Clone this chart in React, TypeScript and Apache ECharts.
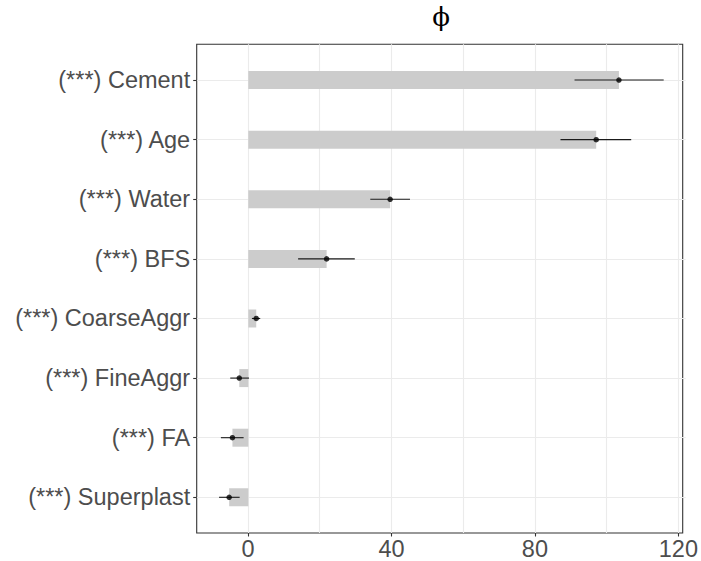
import React, { useEffect, useRef } from "react";
import * as echarts from "echarts";

const categories = [
  "(***) Cement",
  "(***) Age",
  "(***) Water",
  "(***) BFS",
  "(***) CoarseAggr",
  "(***) FineAggr",
  "(***) FA",
  "(***) Superplast",
];
const phi = [102.7, 96.4, 39.3, 21.7, 2.2, -2.5, -4.4, -5.3];
const lower = [90.4, 86.5, 33.8, 13.8, 1.0, -5.0, -7.6, -8.1];
const upper = [115.1, 106.1, 44.8, 29.5, 3.3, 0.2, -1.3, -2.4];
const xTickLabels = [0, 40, 80, 120];
const xGridValues = [0, 20, 40, 60, 80, 100, 120];
const titleText = "ϕ";

const X_MIN = -14.3;
const X_MAX = 121.2;

export default function App() {
  const ref = useRef<HTMLDivElement>(null);
  useEffect(() => {
    if (!ref.current) return;
    const chart = echarts.init(ref.current, null, { renderer: "svg" });
    const font = "'Liberation Sans', Arial, Helvetica, sans-serif";
    const left = 196.7;
    const width = 489;
    chart.setOption({
      animation: false,
      backgroundColor: "#ffffff",
      textStyle: { fontFamily: font },
      graphic: [
        {
          type: "text",
          x: 441.2,
          y: 17,
          style: {
            text: titleText,
            textAlign: "center",
            textVerticalAlign: "middle",
            fontSize: 26,
            fontFamily: "'DejaVu Serif', 'Liberation Serif', serif",
            fill: "#000000",
          },
        },
      ],
      grid: [
        {
          left,
          top: 44.3,
          width,
          height: 488.7,
          show: true,
          borderColor: "#333333",
          borderWidth: 1.1,
          backgroundColor: "transparent",
          containLabel: false,
        },
        {
          left,
          top: 80.06,
          width,
          height: 417.24,
          show: false,
          containLabel: false,
        },
      ],
      xAxis: [
        {
          gridIndex: 0,
          type: "value",
          min: X_MIN,
          max: X_MAX,
          position: "bottom",
          axisLine: { show: false, onZero: false },
          axisTick: {
            show: true,
            customValues: xTickLabels,
            length: 3.5,
            lineStyle: { color: "#333333", width: 1.1 },
          },
          axisLabel: {
            customValues: xTickLabels,
            fontSize: 23.5,
            color: "#4D4D4D",
            margin: 4,
            fontFamily: font,
          },
          splitLine: { show: false },
        },
        {
          gridIndex: 0,
          type: "value",
          min: X_MIN,
          max: X_MAX,
          position: "top",
          axisLine: { show: false, onZero: false },
          axisTick: { show: false, customValues: xGridValues },
          axisLabel: { show: false, customValues: xGridValues },
          splitLine: { show: true, lineStyle: { color: "#EBEBEB", width: 1.1 } },
        },
        {
          gridIndex: 1,
          type: "value",
          min: X_MIN,
          max: X_MAX,
          show: false,
          axisLine: { onZero: false },
        },
      ],
      yAxis: [
        { gridIndex: 0, type: "value", show: false, axisLine: { onZero: false } },
        {
          gridIndex: 1,
          type: "category",
          data: categories,
          inverse: true,
          boundaryGap: false,
          position: "left",
          axisLine: { show: false, onZero: false },
          axisTick: {
            show: true,
            length: 3.5,
            lineStyle: { color: "#333333", width: 1.1 },
          },
          axisLabel: {
            fontSize: 23.5,
            color: "#4D4D4D",
            margin: 6.5,
            fontFamily: font,
          },
          splitLine: { show: true, lineStyle: { color: "#EBEBEB", width: 1.1 } },
        },
      ],
      series: [
        {
          type: "bar",
          xAxisIndex: 2,
          yAxisIndex: 1,
          data: phi,
          barWidth: 18,
          itemStyle: { color: "#CCCCCC" },
          z: 2,
        },
        {
          type: "custom",
          xAxisIndex: 2,
          yAxisIndex: 1,
          data: categories.map((_, i) => [lower[i], upper[i], i]),
          encode: { x: [0, 1], y: 2 },
          renderItem: (params: any, api: any) => {
            const y = api.value(2);
            const p1 = api.coord([api.value(0), y]);
            const p2 = api.coord([api.value(1), y]);
            return {
              type: "line",
              shape: { x1: p1[0], y1: p1[1], x2: p2[0], y2: p2[1] },
              style: { stroke: "#1a1a1a", lineWidth: 1.1 },
            };
          },
          z: 3,
        },
        {
          type: "scatter",
          xAxisIndex: 2,
          yAxisIndex: 1,
          data: phi.map((v, i) => [v, i]),
          symbol: "circle",
          symbolSize: 5.5,
          itemStyle: { color: "#000000" },
          z: 4,
        },
      ],
    });
    return () => chart.dispose();
  }, []);
  return (
    <div
      ref={ref}
      style={{ position: "fixed", left: 0, top: 0, width: 701, height: 561 }}
    />
  );
}
